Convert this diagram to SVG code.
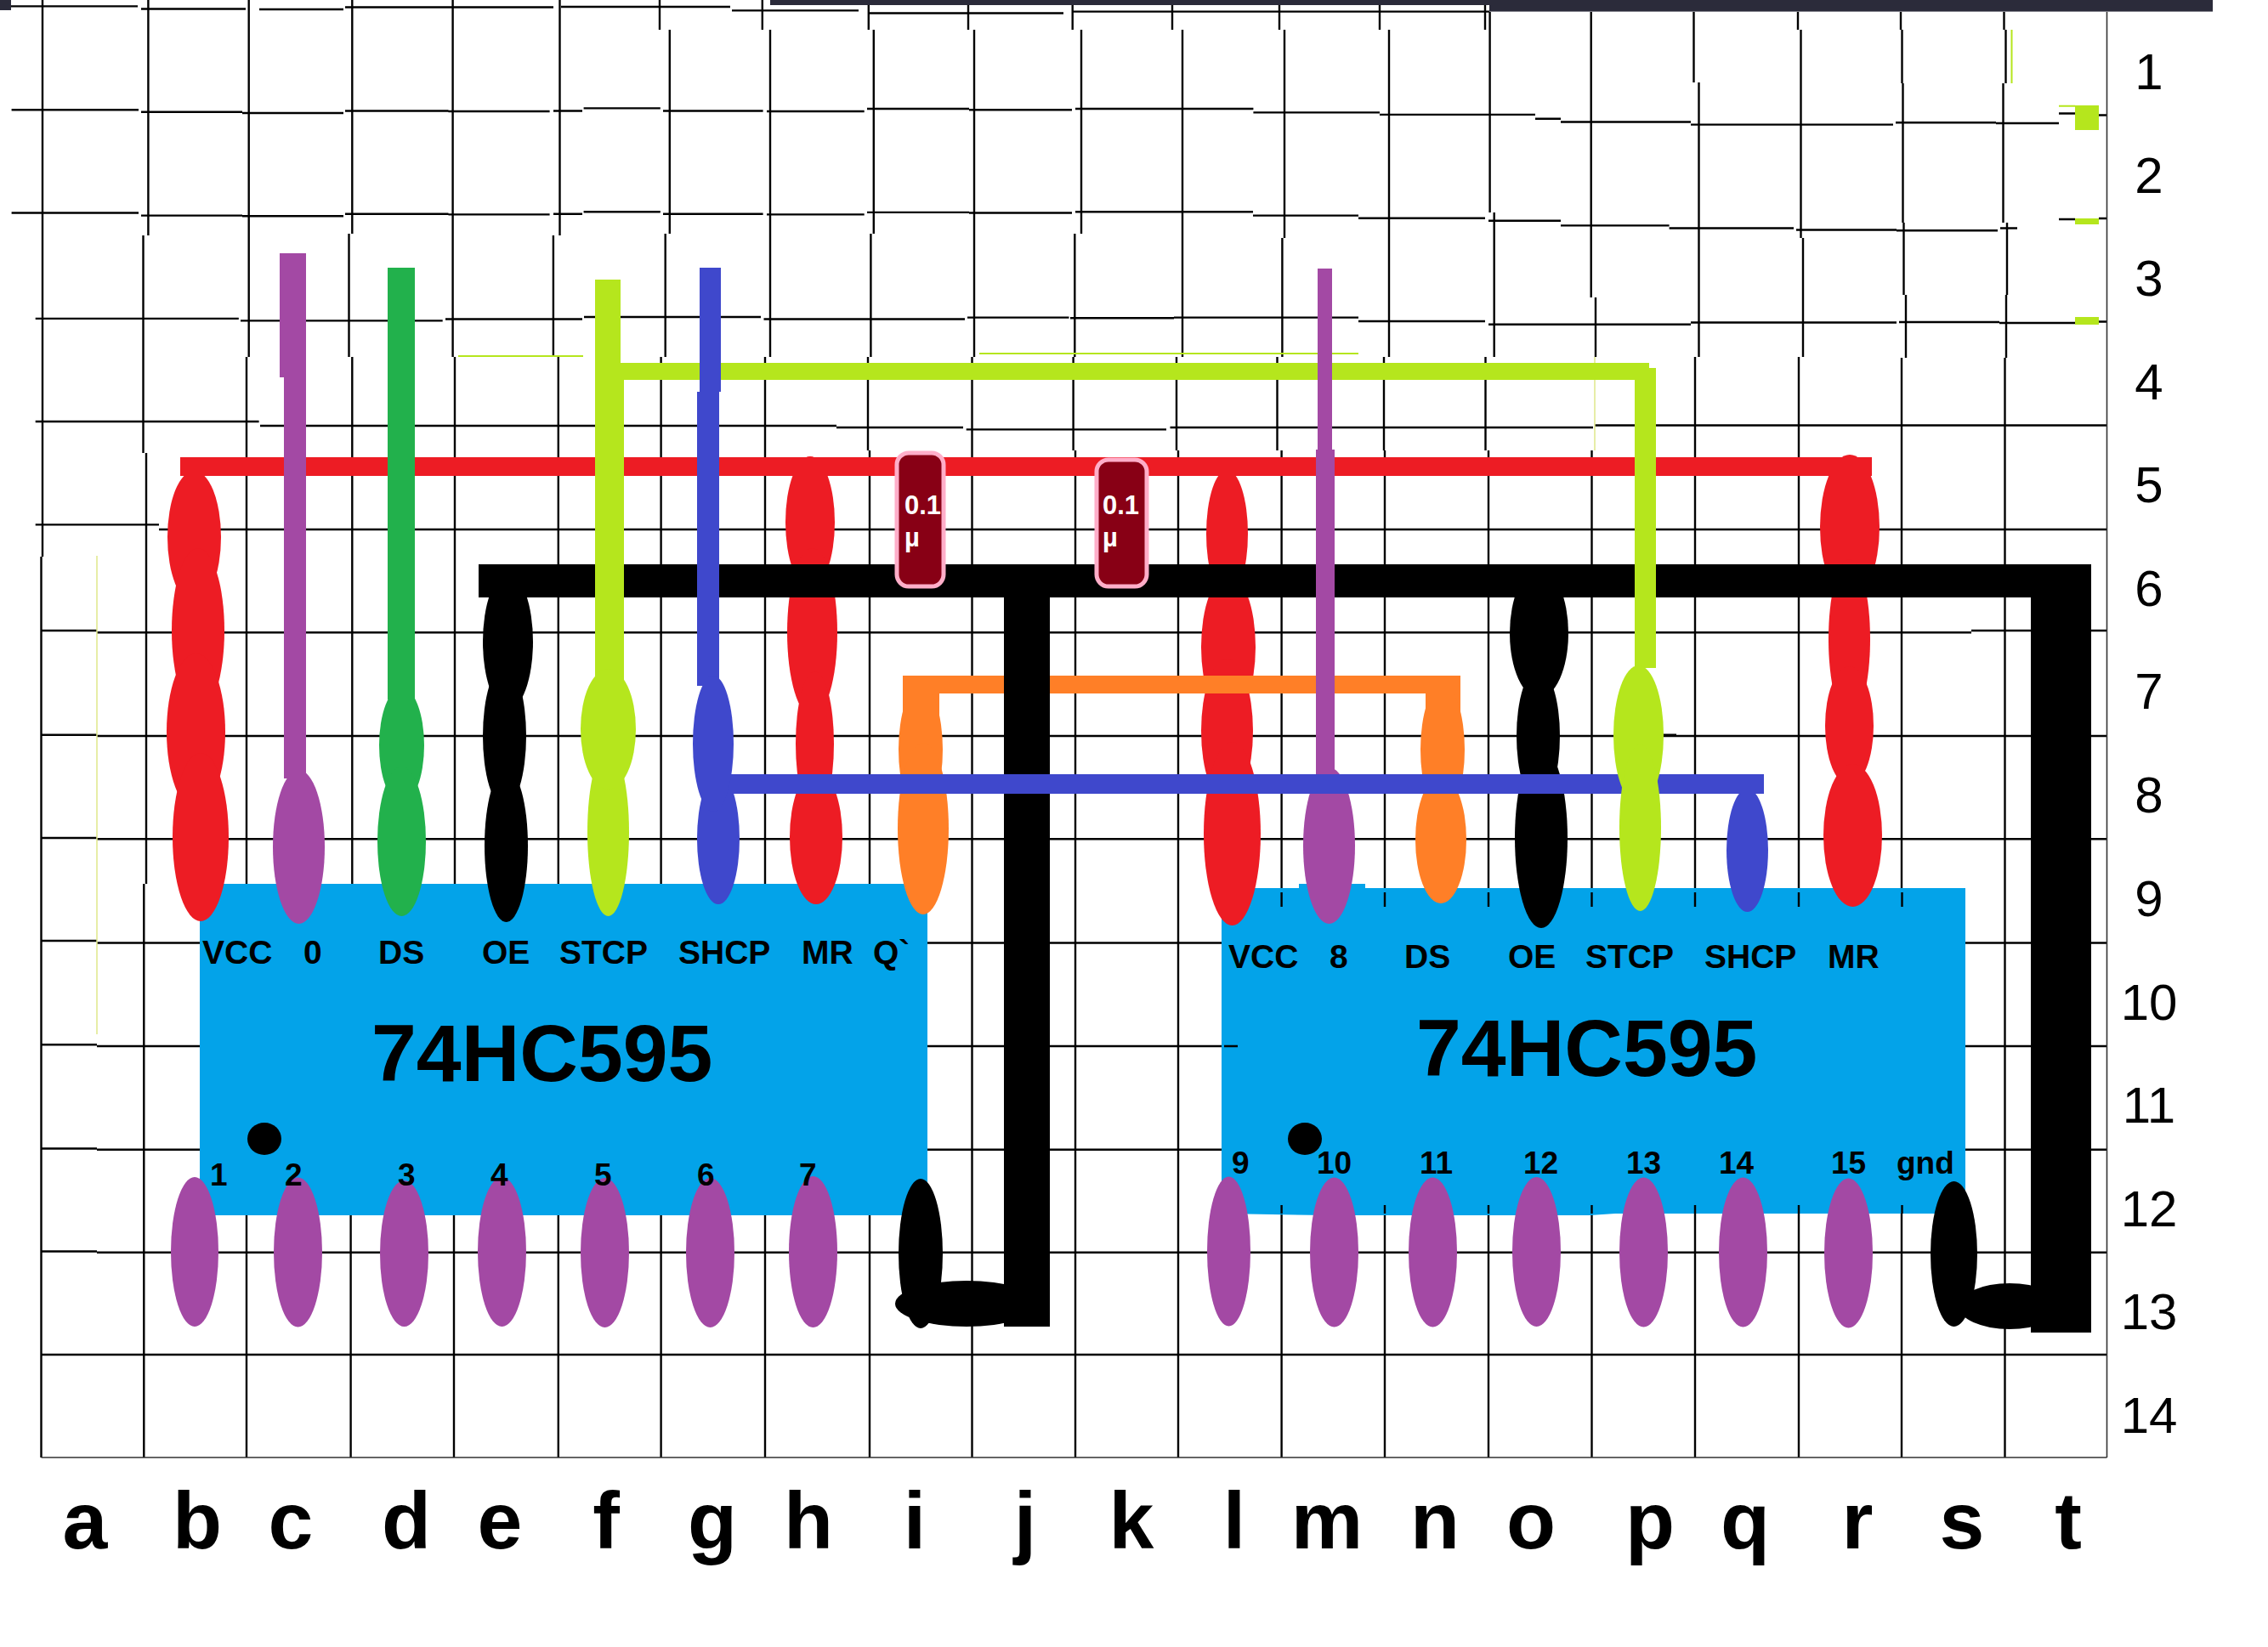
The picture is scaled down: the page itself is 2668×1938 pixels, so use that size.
<svg xmlns="http://www.w3.org/2000/svg" width="2668" height="1938" viewBox="0 0 2668 1938">
<style>
.red{fill:#ed1c24}.pur{fill:#a349a4}.grn{fill:#22b14c}.blk{fill:#000}.lim{fill:#b5e61d}.blu{fill:#3f48cc}.org{fill:#ff7f27}
.chip{fill:#03a3e9}
.grid{fill:none;stroke:#000;stroke-width:2.4}
.thin{fill:none;stroke:#333;stroke-width:1.6}
.t{font-family:"Liberation Sans",Arial,sans-serif;fill:#000}
.lab{font-weight:700;font-size:39px}
.num{font-weight:700;font-size:37px}
.title{font-weight:700;font-size:95px}
.row{font-size:60px;text-anchor:middle}
.col{font-weight:700;font-size:95px;text-anchor:middle}
.cap{fill:#880015;stroke:#ffaec9;stroke-width:5}
.capt{font-family:"Liberation Sans",Arial,sans-serif;font-weight:700;font-size:31px;fill:#fff}
</style>
<rect width="2668" height="1938" fill="#fff"/>
<g id="grid">
<path class="grid" d="M50 0V655M48.5 655V1715M174.4 0V277M168.5 277V533M172 533V1040M169.3 1040V1715M292.7 0V420M290 420V1715M414.3 0V275M410.5 275V420M414.3 420V1040M412.6 1040V1715M532.6 0V420M535 420V1040M534 1040V1715M658.5 0V277M650.9 277V420M656.8 420V1715M776 0V35M787.8 35V275M782.7 275V420M777.6 420V1715M896.8 0V35M906 35V420M900 420V1715M1021.8 0V35M1027.8 35V275M1024.4 275V420M1021 420V530M1023 530V1715M1139 0V35M1146 35V420M1143.5 420V1715M1261.7 0V35M1272 35V275M1264.3 275V420M1262.6 420V530M1265 530V1715M1379 0V35M1391 35V420M1384 420V530M1386 530V1715M1505 0V35M1511 35V280M1508.4 280V420M1502.5 420V530M1507.6 530V1715M1623 0V35M1634 35V420M1628 420V530M1629 530V1715M1747 0V35M1752.6 14V250M1757.7 250V420M1747.5 420V530M1751 530V1715M1871.7 14V350M1877 350V420M1872.5 530V1715M1992.5 14V97M1998.5 97V420M1994 420V1715M2115 14V35M2118.5 35V280M2121 280V420M2116 420V1715M2236 14V35M2237.5 35V98M2238.5 98V262M2239.5 262V347M2242 347V421M2237 421V1715M2357.5 14V35M2359.5 35V98M2356.5 98V262M2361 262V347M2360 347V421M2358.5 421V1715"/>
<path class="grid" d="M0 7.4H162M166 10.5H289M305 11H404M406 8.5H651M660 8H859M861 12.4H1010M1023 15.5H1251M1262 13.6H1752
M13.6 129.3H163M166 131.8H285M285 133H404M406 130.5H527.5M527.5 131H646.6M651 130.5H685M686.6 127.4H776.8M780 130.5H897.6M902 131H1016.7M1020 128H1140M1140 129.3H1261M1265 128H1474.4M1474.4 132.4H1623M1623 134.9H1806M1806 139.8H1836M1836 143.5H1989M1989 146.6H2227M2230 144.3H2348M2348 145H2422M2422 133.5H2441M2469 135.5H2478
M13.6 250.5H163M166 253.6H285M285 254.2H404M406 251.8H527.5M527.5 252.4H646.6M651 251.8H685M686.6 249.3H776.8M780 251.8H897.6M902 252.4H1016.7M1020 249.9H1140M1140 250.5H1261M1265 249.3H1474M1474 253.6H1598M1598 256.7H1747M1751 259.8H1836M1836 265.4H1963.6M1963.6 268.5H2110M2113 270.5H2231M2231 271.3H2350M2353 268.5H2373M2422 258H2441M2469 257H2478
M41.7 374.9H280.8M283 377.4H520.7M524 375.5H685M687 373H895M898.5 375.5H1135M1138 373.6H1257.5M1259 374.3H1381M1381 373.6H1598M1598 378H1747M1751 381.7H1989M1989 379.5H2231M2234 379H2352M2352 380H2441M2469 378.5H2478
M41.7 496H304.6M306 501H984M984 503H1133M1136.7 505.4H1372M1376.5 503H1874M1876 500.5H2478
M41.7 617.4H187M187 623H2478
M48.5 742H114M114 744.2H2319M2319 742H2478
M48.5 864.8H114M114 866H2478
M48.5 986H114M114 987.3H2478
M48.5 1107H114M114 1109.5H2478
M48.5 1229.3H114M114 1231H2478
M48.5 1351.5H114M114 1352.7H2478
M48.5 1472.5H114M114 1473.7H2478
M48.5 1594H2478"/>
<path class="thin" d="M48.5 1715H2478.5M2478.5 14V1715"/>
</g>
<g id="stray-marks">
<rect x="906" y="0" width="846" height="6" fill="#2b2b3a"/>
<rect x="1752" y="0" width="851" height="13.6" fill="#2b2b3a"/>
<rect x="0" y="0" width="13" height="12" fill="#2b2b3a"/>
<path fill="none" stroke="#b5e61d" stroke-width="2" d="M539 419H686M1152 416H1598M2422 124.7H2441M2366.5 35V98"/>
<path fill="none" stroke="#dfe88a" stroke-width="1.5" d="M114 654V1217M1876 420V530"/>
<rect class="lim" x="2441" y="124" width="28" height="29"/>
<rect class="lim" x="2441" y="257" width="28" height="7"/>
<rect class="lim" x="2441" y="373" width="28" height="9"/>
<rect class="blk" x="1955" y="863.5" width="17" height="3.5"/>
</g>
<g id="chip-1"><rect class="chip" x="235" y="1040" width="856" height="390"/><ellipse class="blk" cx="311" cy="1340" rx="20" ry="19"/></g>
<g id="chip-2"><path class="chip" d="M1437 1045H1528V1040H1606V1045H2312V1428H1900L1870 1430H1620L1560 1430L1437 1428Z"/><ellipse class="blk" cx="1535" cy="1340" rx="20" ry="19"/>
<path class="grid" d="M1507.6 1050V1067M1629 1050V1067M1751 1050V1067M1872.5 1050V1067M1994 1050V1067M2116 1050V1067M2237.5 1050V1067M1440 1231H1456M1507.6 1418V1428M1629 1418V1428M1751 1418V1428M1872.5 1418V1428M1994 1418V1428M2116 1418V1428M2237.5 1418V1428"/></g>
<g id="pin-b" class="red"><ellipse cx="228.5" cy="632" rx="31.5" ry="78"/><ellipse cx="233" cy="742" rx="31" ry="97"/><ellipse cx="230.5" cy="861" rx="34.5" ry="92"/><ellipse cx="236" cy="985" rx="33" ry="99"/></g>
<g id="pin-h" class="red"><ellipse cx="953" cy="614.5" rx="29" ry="77.5"/><ellipse cx="955.5" cy="744" rx="29.5" ry="99"/><ellipse cx="958.5" cy="875" rx="22.5" ry="85"/><ellipse cx="960" cy="985" rx="31" ry="79"/></g>
<g id="pin-l" class="red"><ellipse cx="1443.5" cy="628" rx="24.5" ry="75"/><ellipse cx="1445" cy="761" rx="32" ry="85"/><ellipse cx="1443.5" cy="860" rx="30.5" ry="85"/><ellipse cx="1449.5" cy="981" rx="33.5" ry="108"/></g>
<g id="pin-r" class="red"><ellipse cx="2176" cy="620" rx="35" ry="85"/><ellipse cx="2175.5" cy="752" rx="24.5" ry="94"/><ellipse cx="2175.5" cy="854" rx="28.5" ry="70"/><ellipse cx="2179.5" cy="983" rx="34.5" ry="84"/></g>
<g id="pin-c" class="pur"><ellipse cx="351.5" cy="996.5" rx="30.5" ry="90.5"/></g>
<g id="pin-m" class="pur"><ellipse cx="1563.5" cy="995" rx="30.5" ry="92"/></g>
<g id="pin-d" class="grn"><ellipse cx="472.5" cy="877" rx="26.5" ry="68"/><ellipse cx="472.5" cy="990" rx="28.5" ry="88"/></g>
<g id="pin-e" class="blk"><ellipse cx="597.5" cy="755" rx="29.5" ry="80"/><ellipse cx="593.5" cy="866" rx="25.5" ry="83"/><ellipse cx="595.5" cy="995" rx="25.5" ry="90"/></g>
<g id="pin-o" class="blk"><ellipse cx="1810.5" cy="745" rx="34.5" ry="76"/><ellipse cx="1809.5" cy="866" rx="25.5" ry="79"/><ellipse cx="1813" cy="986" rx="31" ry="106"/></g>
<g id="pin-f" class="lim"><ellipse cx="715.5" cy="979" rx="24.5" ry="99"/></g>
<g id="pin-g" class="blu"><ellipse cx="845" cy="987" rx="25" ry="77"/></g>
<g id="pin-q" class="blu"><ellipse cx="2055.5" cy="1000.5" rx="24.5" ry="72.5"/></g>
<g id="pin-i" class="org"><rect x="1062" y="805" width="43" height="40"/><ellipse cx="1083" cy="882" rx="26" ry="76"/><ellipse cx="1086" cy="975" rx="30" ry="101"/></g>
<g id="pin-n" class="org"><rect x="1677" y="805" width="41" height="40"/><ellipse cx="1697" cy="882" rx="26" ry="76"/><ellipse cx="1695" cy="988" rx="30" ry="75"/></g>
<g id="pins-bottom-1" class="pur"><ellipse cx="229" cy="1473" rx="28" ry="88"/><ellipse cx="350.5" cy="1473.5" rx="28.5" ry="88"/><ellipse cx="475.5" cy="1475" rx="28.5" ry="86"/><ellipse cx="590.5" cy="1473" rx="28.5" ry="88"/><ellipse cx="711.5" cy="1474" rx="28.5" ry="88"/><ellipse cx="835.5" cy="1474" rx="28.5" ry="88"/><ellipse cx="956.5" cy="1473" rx="28.5" ry="89"/></g>
<g id="pins-bottom-2" class="pur"><ellipse cx="1445.5" cy="1472.5" rx="25.5" ry="88"/><ellipse cx="1569.5" cy="1473.5" rx="28.5" ry="88"/><ellipse cx="1685.5" cy="1473.5" rx="28.5" ry="88"/><ellipse cx="1807.5" cy="1473" rx="28.5" ry="88"/><ellipse cx="1933.5" cy="1473.5" rx="28.5" ry="88"/><ellipse cx="2050.5" cy="1473.5" rx="28.5" ry="88"/><ellipse cx="2174.5" cy="1474.5" rx="28.5" ry="88"/></g>
<g id="connectors">
<rect class="red" x="212" y="538" width="1990" height="22"/>
<rect class="org" x="1062" y="795" width="656" height="21"/>
<rect class="blk" x="563" y="664" width="1897" height="39"/>
<rect class="blk" x="1181" y="664" width="54" height="897"/>
<rect class="blk" x="2389" y="664" width="71" height="904"/>
<ellipse class="blk" cx="1083" cy="1475" rx="26" ry="88"/><ellipse class="blk" cx="1137" cy="1534" rx="84" ry="27"/>
<ellipse class="blk" cx="2298.5" cy="1475.5" rx="27.5" ry="85.5"/><ellipse class="blk" cx="2364" cy="1537" rx="60" ry="27"/>
<rect class="grn" x="456" y="315" width="32" height="508"/>
<rect class="pur" x="329" y="298" width="31" height="146"/><rect class="pur" x="334" y="444" width="26" height="472"/>
<rect class="lim" x="730" y="427" width="1210" height="20"/><rect class="lim" x="1923" y="433" width="25" height="353"/>
<rect class="lim" x="700" y="329" width="30" height="116"/><rect class="lim" x="700" y="445" width="34" height="360"/>
<rect class="blu" x="838" y="911" width="1237" height="23"/>
<rect class="blu" x="823" y="315" width="25" height="146"/><rect class="blu" x="820" y="461" width="26" height="346"/>
<rect class="pur" x="1550" y="316" width="17" height="213"/><rect class="pur" x="1548" y="529" width="22" height="382"/>
</g>
<g id="pin-f2" class="lim"><ellipse cx="715.5" cy="858" rx="32.5" ry="71"/></g>
<g id="pin-g2" class="blu"><ellipse cx="839" cy="875" rx="24" ry="80"/></g>
<g id="pin-p" class="lim"><ellipse cx="1927.5" cy="865" rx="29.5" ry="82"/><ellipse cx="1929.5" cy="974" rx="24.5" ry="98"/></g>
<g id="cap-1"><rect class="cap" x="1055" y="533" width="55" height="157" rx="14"/><text class="capt" x="1064" y="605">0.1</text><text class="capt" x="1064" y="643">µ</text></g>
<g id="cap-2"><rect class="cap" x="1290" y="541" width="59" height="149" rx="14"/><text class="capt" x="1297" y="605">0.1</text><text class="capt" x="1297" y="643">µ</text></g>
<g id="chip-1-labels" class="t">
<text class="lab" x="238" y="1134">VCC</text><text class="lab" x="357" y="1134">0</text><text class="lab" x="445" y="1134">DS</text><text class="lab" x="567" y="1134">OE</text><text class="lab" x="658" y="1134">STCP</text><text class="lab" x="798" y="1134">SHCP</text><text class="lab" x="943" y="1134">MR</text><text class="lab" x="1027" y="1134">Q`</text>
<text class="title" x="437" y="1272">74HC595</text>
<text class="num" x="247" y="1395">1</text><text class="num" x="335" y="1395">2</text><text class="num" x="468" y="1395">3</text><text class="num" x="577" y="1395">4</text><text class="num" x="699" y="1395">5</text><text class="num" x="820" y="1395">6</text><text class="num" x="940" y="1395">7</text>
</g>
<g id="chip-2-labels" class="t">
<text class="lab" x="1445" y="1139">VCC</text><text class="lab" x="1564" y="1139">8</text><text class="lab" x="1652" y="1139">DS</text><text class="lab" x="1774" y="1139">OE</text><text class="lab" x="1865" y="1139">STCP</text><text class="lab" x="2005" y="1139">SHCP</text><text class="lab" x="2150" y="1139">MR</text>
<text class="title" x="1666" y="1266">74HC595</text>
<text class="num" x="1449" y="1381">9</text><text class="num" x="1549" y="1381">10</text><text class="num" x="1670" y="1381">11</text><text class="num" x="1792" y="1381">12</text><text class="num" x="1913" y="1381">13</text><text class="num" x="2022" y="1381">14</text><text class="num" x="2154" y="1381">15</text><text class="num" x="2231" y="1381">gnd</text>
</g>
<g id="row-labels" class="t">
<text class="row" x="2528" y="105">1</text><text class="row" x="2528" y="227">2</text><text class="row" x="2528" y="348">3</text><text class="row" x="2528" y="470">4</text><text class="row" x="2528" y="591">5</text><text class="row" x="2528" y="713">6</text><text class="row" x="2528" y="834">7</text><text class="row" x="2528" y="956">8</text><text class="row" x="2528" y="1078">9</text><text class="row" x="2528" y="1200">10</text><text class="row" x="2528" y="1321">11</text><text class="row" x="2528" y="1443">12</text><text class="row" x="2528" y="1564">13</text><text class="row" x="2528" y="1686">14</text>
</g>
<g id="col-labels" class="t">
<text class="col" x="100" y="1822">a</text><text class="col" x="232" y="1822">b</text><text class="col" x="342" y="1822">c</text><text class="col" x="478" y="1822">d</text><text class="col" x="588" y="1822">e</text><text class="col" x="713" y="1822">f</text><text class="col" x="838" y="1822">g</text><text class="col" x="951" y="1822">h</text><text class="col" x="1076" y="1822">i</text><text class="col" x="1206" y="1822">j</text><text class="col" x="1331" y="1822">k</text><text class="col" x="1452" y="1822">l</text><text class="col" x="1561" y="1822">m</text><text class="col" x="1688" y="1822">n</text><text class="col" x="1801" y="1822">o</text><text class="col" x="1941" y="1822">p</text><text class="col" x="2053" y="1822">q</text><text class="col" x="2185" y="1822">r</text><text class="col" x="2308" y="1822">s</text><text class="col" x="2433" y="1822">t</text>
</g>
</svg>
